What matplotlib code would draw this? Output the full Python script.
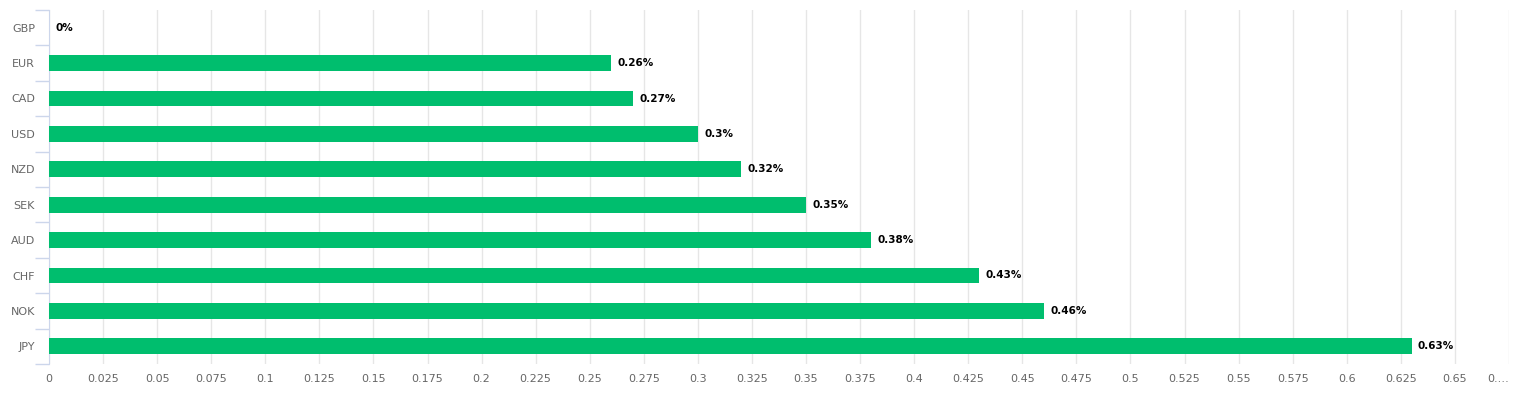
import matplotlib.pyplot as plt
import numpy as np

# Data
currencies = ['GBP', 'EUR', 'CAD', 'USD', 'NZD', 'SEK', 'AUD', 'CHF', 'NOK', 'JPY']
values = [0, 0.26, 0.27, 0.3, 0.32, 0.35, 0.38, 0.43, 0.46, 0.63]
labels = ['0%', '0.26%', '0.27%', '0.3%', '0.32%', '0.35%', '0.38%', '0.43%', '0.46%', '0.63%']

xticks = np.arange(0, 0.676, 0.025)
xtick_labels = [f'{t:.3f}'.rstrip('0').rstrip('.') for t in xticks]
xtick_labels[-1] = '0.…'

fig = plt.figure(figsize=(15.2, 4), dpi=100)
ax = fig.add_axes([49 / 1520, 36 / 400, 1460 / 1520, 354 / 400])

y = np.arange(len(currencies))
ax.barh(y, values, height=0.45, color='#00be6e', zorder=3)

for yi, v, lab in zip(y, values, labels):
    ax.annotate(lab, (v, yi), xytext=(4.5, 0), textcoords='offset points',
                va='center', ha='left', fontsize=7.5, fontweight='bold', color='black')

ax.set_xlim(0, 0.675)
ax.set_ylim(len(currencies) - 0.5, -0.5)
ax.set_xticks(xticks)
ax.set_xticklabels(xtick_labels)
ax.get_xticklabels()[-1].set_horizontalalignment('right')
ax.set_yticks(y)
ax.set_yticklabels(currencies)

# category boundary ticks on the y axis
ax.set_yticks(np.arange(-0.5, len(currencies)), minor=True)
ax.tick_params(axis='y', which='major', length=0, pad=10, labelsize=8, labelcolor='#666666')
ax.tick_params(axis='y', which='minor', length=10, color='#ccd6eb', width=1)
ax.tick_params(axis='x', which='major', length=0, pad=7, labelsize=8, labelcolor='#666666')

ax.grid(True, axis='x', color='#e6e6e6', linewidth=1, zorder=0)
for s in ['top', 'right', 'bottom']:
    ax.spines[s].set_visible(False)
ax.spines['left'].set_color('#ccd6eb')

fig.savefig('out.png', dpi=100)
